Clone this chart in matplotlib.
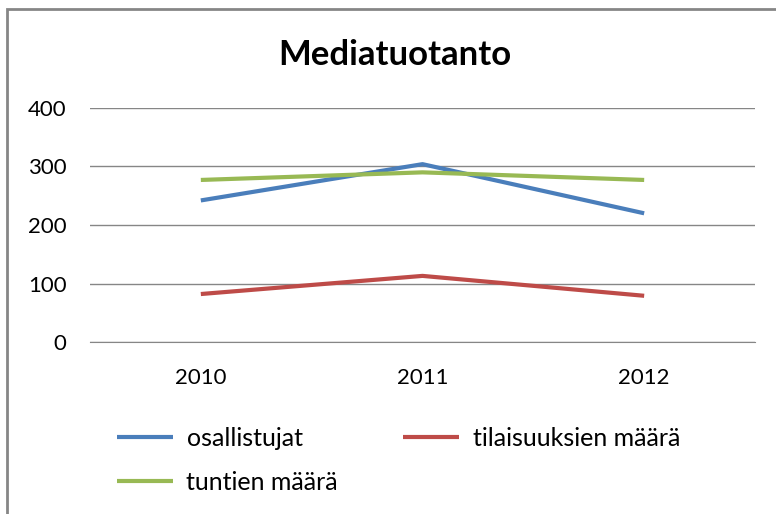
import matplotlib.pyplot as plt
from matplotlib.patches import Rectangle

years = ['2010', '2011', '2012']
osallistujat = [242, 304, 220]
tilaisuudet = [82, 113, 79]
tunnit = [277, 290, 277]

series_names = ['osallistujat', 'tilaisuuksien määrä', 'tuntien määrä']
colors = ['#4A7EBB', '#BE4B48', '#98B954']

plt.rcParams['font.family'] = ['Lato', 'DejaVu Sans']

W, H = 776, 514
fig = plt.figure(figsize=(W / 100, H / 100), dpi=100)
ax = fig.add_axes([90 / W, 1 - 342 / H, 665 / W, 234 / H])

x = range(len(years))
lines = []
for vals, name, c in zip([osallistujat, tilaisuudet, tunnit], series_names, colors):
    ln, = ax.plot(x, vals, color=c, lw=3, label=name, solid_capstyle='butt')
    lines.append(ln)

ax.set_xlim(-0.5, 2.5)
ax.set_ylim(0, 400)
ax.set_yticks([0, 100, 200, 300, 400])
ax.set_xticks(list(x))
ax.set_xticklabels(years)
ax.grid(axis='y', color='#868686', lw=1)
ax.set_axisbelow(True)
for s in ['top', 'right', 'left']:
    ax.spines[s].set_visible(False)
ax.spines['bottom'].set_color('#868686')
ax.tick_params(length=0, labelsize=16, colors='#000000')
ax.tick_params(axis='y', pad=17)
ax.tick_params(axis='x', pad=19)

fig.text(395 / W, 1 - 55 / H, 'Mediatuotanto', ha='center', va='center',
         fontsize=25, fontweight='bold')

# order so that row 1 = blue, red; row 2 = green
handles = [lines[0], lines[2], lines[1]]
labels = [series_names[0], series_names[2], series_names[1]]
fig.legend(handles, labels, ncol=2, loc='upper left',
           bbox_to_anchor=(94 / W, 1 - 404 / H), frameon=False,
           fontsize=18, handlelength=2.24, handletextpad=0.56,
           columnspacing=2.6, labelspacing=0.85)

fig.add_artist(Rectangle((7 / W, -0.1), 1.2, 1 - 9 / H + 0.1,
                         transform=fig.transFigure, fill=False,
                         edgecolor='#868686', lw=2, clip_on=False))

fig.savefig('out.png', dpi=100)
